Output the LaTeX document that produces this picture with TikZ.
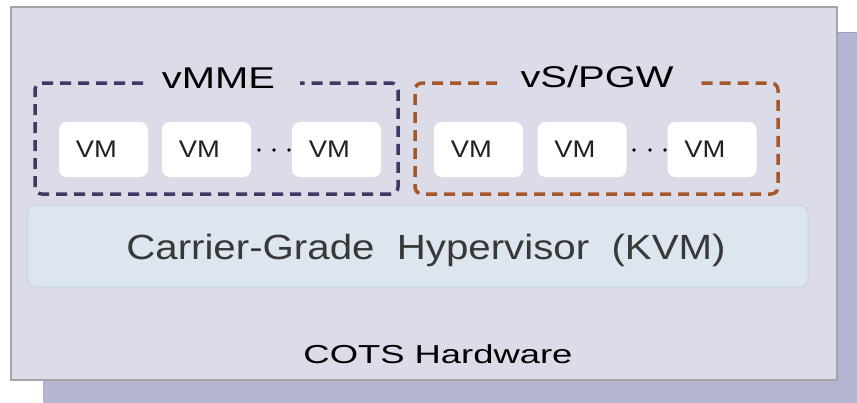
\documentclass[tikz,border=0pt]{standalone}
\usepackage{fontspec}
\setmainfont{Liberation Sans}
\newfontfamily\fTitle{Liberation Sans}[FakeStretch=1.33]
\newfontfamily\fHyp{Liberation Sans}[FakeStretch=1.15]
\newfontfamily\fVM{Liberation Sans}[FakeStretch=1.14]
\newfontfamily\fCots{Liberation Sans}[FakeStretch=1.4]
\definecolor{frontfill}{HTML}{DCDBE8}
\definecolor{frontdraw}{HTML}{A3A3A8}
\definecolor{backfill}{HTML}{B5B4D3}
\definecolor{hypfill}{HTML}{DDE6EE}
\definecolor{hypdraw}{HTML}{C3D5E2}
\definecolor{navy}{HTML}{3D3B66}
\definecolor{rust}{HTML}{A5562B}
\definecolor{txtgray}{HTML}{383838}
\definecolor{vmtxt}{HTML}{222222}
\tikzset{
  dashbox/.style={line width=3.5pt, dash pattern=on 11pt off 7pt, rounded corners=7pt},
  vmbox/.style={fill=white, draw=none, rounded corners=8pt, minimum width=89pt, minimum height=55pt,
                inner sep=0pt, text=vmtxt, font=\fVM\fontsize{24}{26}\selectfont},
  title/.style={anchor=base, inner sep=0pt, text=black, font=\fTitle\fontsize{30}{32}\selectfont},
  dot/.style={fill=black}
}
\newcommand{\vmlabel}{VM\hspace*{14pt}}
\begin{document}
\begin{tikzpicture}[x=1pt, y=-1pt]
\useasboundingbox (0,0) rectangle (857,402);
% back and front hardware plates
\fill[backfill] (43,32) rectangle (860,405);
\draw[backfill!85!black, line width=0.8pt] (837,32) -- (860,32);
\node[fill=frontfill, draw=frontdraw, line width=1.2pt, minimum width=826pt, minimum height=373pt, inner sep=0pt]
  (hw) at (424,193.5) {};
\node[anchor=base, inner sep=0pt, font=\fCots\fontsize{26}{28}\selectfont] (cots) at (438,363) {COTS Hardware};
% hypervisor
\node[fill=hypfill, draw=hypdraw, line width=1pt, rounded corners=9pt, minimum width=781pt, minimum height=82pt, inner sep=0pt]
  (hyp) at (417.5,246) {};
\node[anchor=base, inner sep=0pt, text=txtgray, font=\fHyp\fontsize{35}{37}\selectfont] (hyptext) at (426,259) {Carrier-Grade\ \ Hypervisor\ \ (KVM)};
% vMME group
\draw[dashbox, navy] (143,83) -- (35,83) -- (35,194) -- (398,194) -- (398,83) -- (300,83);
\node[title] (vmme) at (218.5,88) {vMME};
\node[vmbox] (m1) at (103.5,149.5) {\vmlabel};
\node[vmbox] (m2) at (206.5,149.5) {\vmlabel};
\node[vmbox] (m3) at (336.5,149.5) {\vmlabel};
\foreach \x in {259,274,289} \fill[dot] (\x,150) circle (1.9pt);
% vS/PGW group
\draw[dashbox, rust] (497,83) -- (415,83) -- (415,194) -- (778,194) -- (778,83) -- (700,83);
\node[title] (vspgw) at (597,87) {vS/PGW};
\node[vmbox] (s1) at (478.5,149.5) {\vmlabel};
\node[vmbox] (s2) at (582,149.5) {\vmlabel};
\node[vmbox] (s3) at (712,149.5) {\vmlabel};
\foreach \x in {634,650,665} \fill[dot] (\x,150) circle (1.9pt);
\end{tikzpicture}
\end{document}
